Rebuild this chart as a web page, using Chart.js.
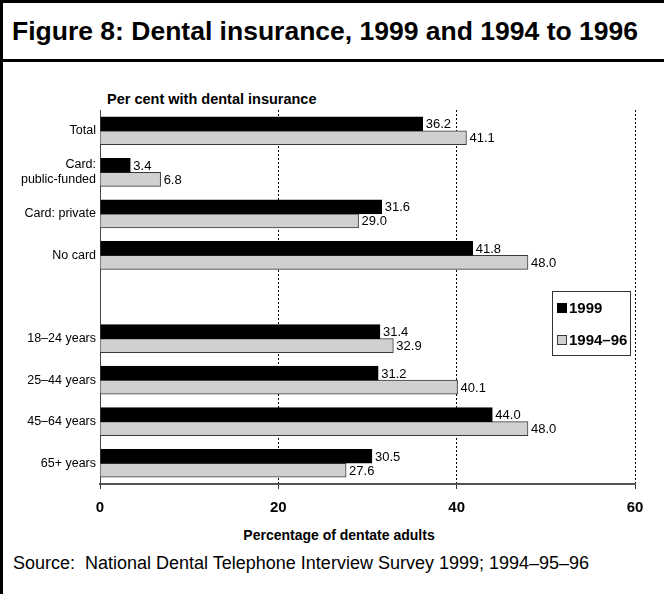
<!DOCTYPE html>
<html>
<head>
<meta charset="utf-8">
<script src="https://cdn.jsdelivr.net/npm/chart.js@4"></script>
<style>
  html, body { margin: 0; padding: 0; background: #fff; }
  body { width: 664px; height: 594px; position: relative; overflow: hidden;
         font-family: "Liberation Sans", Arial, sans-serif; color: #000; }
  #frame { position: absolute; left: 0; top: 0; width: 661px; height: 594px;
           border-left: 3px solid #000; border-top: 3px solid #000; }
  #sep { position: absolute; left: 0; top: 59px; width: 664px; height: 0; border-top: 3px solid #000; }
  .txt { position: absolute; white-space: nowrap; line-height: 1; }
  #title { left: 12px; top: 18px; font-size: 26.5px; font-weight: bold; }
  #subtitle { left: 107px; top: 92px; font-size: 14.5px; font-weight: bold; }
  #xtitle { left: 339px; top: 528px; font-size: 14px; font-weight: bold; transform: translateX(-50%); }
  #source { left: 13px; top: 554px; font-size: 18px; }
  #wrap { position: absolute; left: 0; top: 0; width: 664px; height: 594px; }
</style>
</head>
<body>
<div id="frame"></div>
<div id="sep"></div>
<div class="txt" id="title">Figure 8: Dental insurance, 1999 and 1994 to 1996</div>
<div class="txt" id="subtitle">Per cent with dental insurance</div>
<div class="txt" id="xtitle">Percentage of dentate adults</div>
<div class="txt" id="source">Source:&nbsp; National Dental Telephone Interview Survey 1999; 1994–95–96</div>
<div id="wrap"><canvas id="dentalChart" width="664" height="594"></canvas></div>
<script>
// Chart data
const categories = ['Total', ['Card:', 'public-funded'], 'Card: private', 'No card', '',
  '18–24 years', '25–44 years', '45–64 years', '65+ years'];
const values1999 = [36.2, 3.4, 31.6, 41.8, null, 31.4, 31.2, 44.0, 30.5];
const values9496 = [41.1, 6.8, 29.0, 48.0, null, 32.9, 40.1, 48.0, 27.6];
const seriesNames = ['1999', '1994–96'];
const xTicks = [0, 20, 40, 60];

const FONT = '"Liberation Sans", Arial, sans-serif';

// Value labels at the end of each bar
const valueLabels = {
  id: 'valueLabels',
  afterDatasetsDraw(chart) {
    const ctx = chart.ctx;
    ctx.save();
    ctx.font = '13px ' + FONT;
    ctx.fillStyle = '#000';
    ctx.textAlign = 'left';
    ctx.textBaseline = 'middle';
    chart.data.datasets.forEach((ds, i) => {
      chart.getDatasetMeta(i).data.forEach((bar, j) => {
        const v = ds.data[j];
        if (v === null || v === undefined) return;
        ctx.fillText(v.toFixed(1), bar.x + 3, bar.y + 1);
      });
    });
    ctx.restore();
  }
};

// Boxed legend inside the plot
const boxLegend = {
  id: 'boxLegend',
  afterDraw(chart) {
    const ctx = chart.ctx;
    ctx.save();
    ctx.fillStyle = '#fff';
    ctx.fillRect(552, 291, 79, 65);
    ctx.strokeStyle = '#333';
    ctx.lineWidth = 1;
    ctx.strokeRect(552.5, 291.5, 78, 64);
    ctx.font = 'bold 15px ' + FONT;
    ctx.textBaseline = 'middle';
    chart.data.datasets.forEach((ds, i) => {
      const y = 303 + i * 32;
      ctx.fillStyle = ds.backgroundColor;
      ctx.fillRect(557, y, 10, 10);
      ctx.strokeStyle = ds.borderColor;
      ctx.strokeRect(557.5, y + 0.5, 9, 9);
      ctx.fillStyle = '#000';
      ctx.fillText(ds.label, 569, y + 5.5);
    });
    ctx.restore();
  }
};

const ctx = document.getElementById('dentalChart').getContext('2d');
new Chart(ctx, {
  type: 'bar',
  data: {
    labels: categories,
    datasets: [{
      label: seriesNames[0],
      data: values1999,
      backgroundColor: '#000000',
      borderColor: '#000000',
      borderWidth: 1,
      barThickness: 14
    }, {
      label: seriesNames[1],
      data: values9496,
      backgroundColor: '#d0d0d0',
      borderColor: '#3a3a3a',
      borderWidth: 1,
      barThickness: 14
    }]
  },
  options: {
    indexAxis: 'y',
    responsive: false,
    animation: false,
    layout: { padding: { top: 110, right: 29, left: 0, bottom: 0 } },
    plugins: {
      legend: { display: false },
      tooltip: { enabled: false }
    },
    scales: {
      x: {
        min: 0,
        max: 60,
        afterBuildTicks: scale => { scale.ticks = xTicks.map(v => ({ value: v })); },
        afterFit: scale => { scale.height = 110; },
        // v4: border.dash also dashes the grid lines
        border: { display: true, color: '#555', width: 2, dash: [2, 2] },
        grid: {
          color: c => (c.tick && c.tick.value === 0) ? 'rgba(0,0,0,0)' : '#000',
          lineWidth: 1,
          drawTicks: true,
          tickLength: 5,
          tickColor: '#333',
          tickBorderDash: []
        },
        ticks: {
          color: '#000',
          padding: 10,
          font: { family: FONT, size: 15, weight: 'bold' }
        }
      },
      y: {
        afterFit: scale => { scale.width = 100; },
        border: { display: true, color: '#444', width: 1 },
        grid: { display: false, drawTicks: false },
        ticks: {
          color: '#000',
          padding: 4,
          autoSkip: false,
          font: { family: FONT, size: 12.5, lineHeight: 1.2 }
        }
      }
    }
  },
  plugins: [valueLabels, boxLegend]
});
</script>
</body>
</html>
